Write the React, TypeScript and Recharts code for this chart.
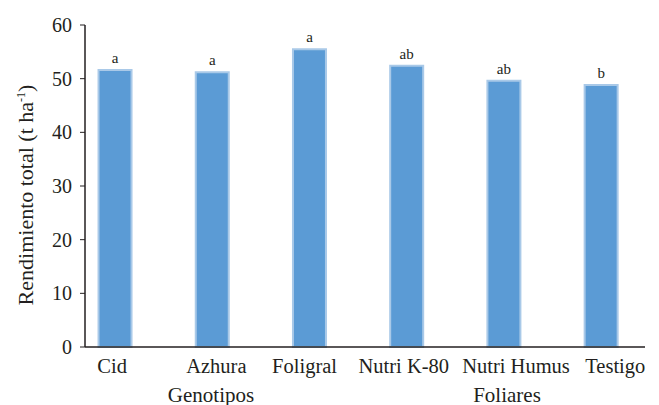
import { BarChart, Bar, XAxis, YAxis, LabelList } from 'recharts';

const categories = ['Cid', 'Azhura', 'Foligral', 'Nutri K-80', 'Nutri Humus', 'Testigo'];
const rendimiento = [51.6, 51.2, 55.5, 52.4, 49.6, 48.8];
const letras = ['a', 'a', 'a', 'ab', 'ab', 'b'];
const yTicks = [0, 10, 20, 30, 40, 50, 60];

const data = categories.map((name, i) => ({
  idx: i,
  name,
  value: rendimiento[i],
  letra: letras[i],
}));

const FONT = '"Liberation Serif", "DejaVu Serif", serif';
const TEXT = '#231f20';
// labels in the original sit a little off their bar centres
const TICK_SHIFT = [-3, 4, -5, -3, 12, 14];

function CategoryTick({ x, y, payload, index }: any) {
  const i = typeof payload?.value === 'number' ? payload.value : index;
  return (
    <text
      x={x + (TICK_SHIFT[i] ?? 0)}
      y={y}
      dy="0.71em"
      textAnchor="middle"
      fill={TEXT}
      fontSize={20.5}
      fontFamily={FONT}
    >
      {categories[i]}
    </text>
  );
}

export default function App() {
  return (
    <div style={{ position: 'relative', width: 659, height: 405, background: '#fff', fontFamily: FONT }}>
      <style>{'body{margin:0}'}</style>
      <BarChart width={659} height={405} data={data} margin={{ top: 25, right: 14, left: 0, bottom: 28 }}>
        <XAxis
          type="number"
          dataKey="idx"
          domain={[-0.31, 5.45]}
          ticks={[0, 1, 2, 3, 4, 5]}
          interval={0}
          allowDataOverflow
          tickLine={false}
          tickSize={0}
          tickMargin={11}
          height={30}
          axisLine={{ stroke: TEXT, strokeWidth: 1.5 }}
          tick={<CategoryTick />}
        />
        <YAxis
          domain={[0, 60]}
          ticks={yTicks}
          width={85}
          tickSize={5}
          tickMargin={8}
          axisLine={{ stroke: TEXT, strokeWidth: 1.5 }}
          tickLine={{ stroke: TEXT }}
          tick={{ fill: TEXT, fontSize: 20, fontFamily: FONT }}
        />
        <Bar dataKey="value" barSize={33} fill="#5b9bd5" stroke="#a9c9e8" strokeWidth={2} isAnimationActive={false}>
          <LabelList dataKey="letra" position="top" offset={7} style={{ fill: TEXT, fontSize: 15, fontFamily: FONT }} />
        </Bar>
      </BarChart>
      <div
        style={{
          position: 'absolute',
          left: 26,
          top: 195,
          transform: 'translate(-50%, -50%) rotate(-90deg)',
          whiteSpace: 'nowrap',
          fontSize: 22,
          color: TEXT,
        }}
      >
        Rendimiento total (t ha<sup style={{ fontSize: 12 }}>-1</sup>)
      </div>
      <div style={{ position: 'absolute', left: 211, top: 395, transform: 'translate(-50%, -50%)', fontSize: 21, color: TEXT, whiteSpace: 'nowrap' }}>
        Genotipos
      </div>
      <div style={{ position: 'absolute', left: 507, top: 395, transform: 'translate(-50%, -50%)', fontSize: 21, color: TEXT, whiteSpace: 'nowrap' }}>
        Foliares
      </div>
    </div>
  );
}
